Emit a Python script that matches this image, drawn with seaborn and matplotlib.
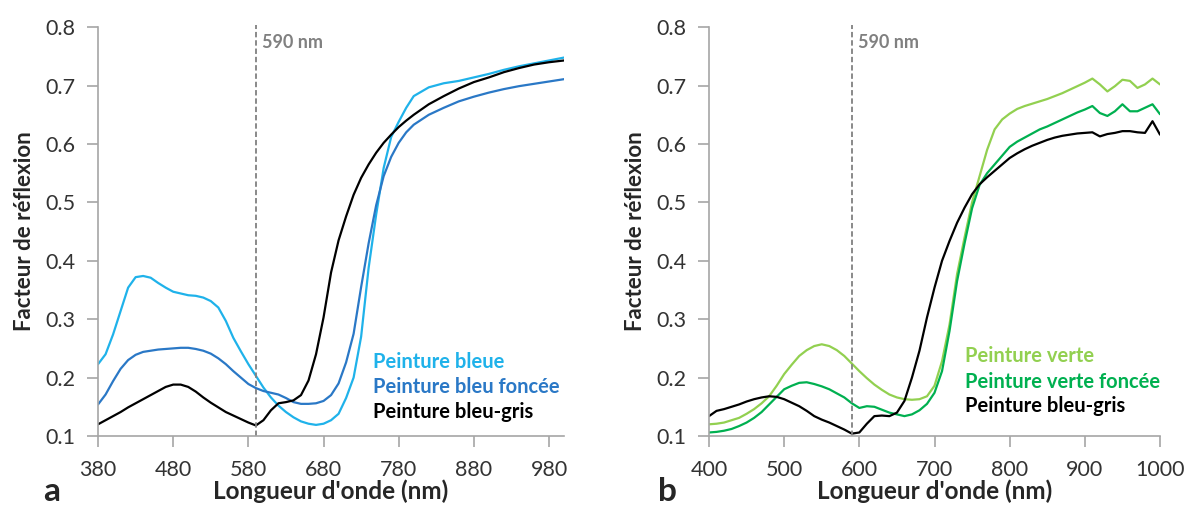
import numpy as np
import pandas as pd
import matplotlib
matplotlib.use("Agg")
import matplotlib.pyplot as plt
import seaborn as sns

# --- data ---
wl_a = [380, 390, 400, 410, 420, 430, 440, 450, 460, 470, 480, 490, 500, 510, 520, 530, 540,
        550, 560, 570, 580, 590, 600, 610, 620, 630, 640, 650, 660, 670, 680, 690, 700, 710,
        720, 730, 740, 750, 760, 770, 780, 790, 800, 820, 840, 860, 880, 900, 920, 940, 960,
        980, 1000]
bleue = [.223, .24, .274, .314, .354, .372, .374, .371, .362, .354, .347, .344, .341, .340,
         .337, .331, .32, .297, .268, .245, .223, .203, .183, .166, .152, .141, .132, .125,
         .121, .119, .121, .127, .138, .165, .2, .27, .388, .479, .559, .612, .638, .662,
         .682, .697, .704, .708, .714, .72, .727, .733, .738, .743, .748]
bleu_foncee = [.154, .171, .194, .215, .23, .239, .244, .246, .248, .249, .25, .251, .251,
               .249, .246, .241, .233, .223, .211, .2, .189, .182, .177, .174, .171, .165,
               .158, .155, .155, .156, .16, .17, .19, .226, .275, .355, .43, .495, .545,
               .578, .602, .62, .633, .65, .662, .673, .681, .688, .694, .699, .703, .707, .711]
bleu_gris_a = [.12, .127, .134, .141, .149, .156, .163, .17, .177, .184, .188, .188, .184,
               .176, .166, .157, .149, .141, .135, .129, .123, .118, .127, .144, .156, .158,
               .161, .17, .195, .24, .303, .38, .435, .476, .513, .542, .565, .585, .602,
               .616, .629, .64, .65, .668, .682, .695, .706, .714, .723, .73, .736, .74, .743]

wl_b = list(range(400, 1001, 10))
verte = [.12, .121, .123, .127, .131, .138, .146, .156, .168, .186, .206, .222, .237, .247,
         .254, .257, .254, .247, .237, .224, .211, .199, .188, .179, .171, .166, .163, .162,
         .163, .168, .186, .228, .291, .377, .44, .5, .545, .59, .625, .642, .652, .66,
         .665, .669, .673, .677, .682, .687, .693, .699, .705, .712, .702, .69, .699, .71,
         .708, .696, .702, .712, .702]
verte_foncee = [.106, .107, .109, .112, .117, .123, .131, .141, .154, .167, .18, .186, .191,
                .192, .189, .185, .18, .173, .166, .156, .148, .151, .15, .145, .14, .137,
                .134, .137, .144, .155, .174, .211, .28, .365, .43, .49, .53, .55, .565, .58,
                .595, .604, .611, .618, .625, .63, .636, .642, .648, .654, .659, .665, .653,
                .648, .656, .668, .656, .656, .662, .668, .651]
bleu_gris_b = [.134, .143, .146, .15, .154, .159, .163, .166, .168, .167, .163, .157, .151,
               .143, .134, .128, .123, .117, .111, .104, .106, .121, .134, .135, .134, .14,
               .16, .2, .246, .303, .354, .4, .434, .465, .491, .514, .531, .543, .554, .565,
               .576, .584, .591, .597, .602, .607, .611, .614, .616, .618, .619, .62, .613,
               .617, .619, .622, .622, .62, .619, .639, .616]

labels_a = ["Peinture bleue", "Peinture bleu foncée", "Peinture bleu-gris"]
labels_b = ["Peinture verte", "Peinture verte foncée", "Peinture bleu-gris"]
colors_a = ["#1fb2ea", "#2a78c6", "#000000"]
colors_b = ["#92d050", "#00b050", "#000000"]

sns.set_style("ticks")
plt.rcParams['font.family'] = ['Lato', 'DejaVu Sans']

fig = plt.figure(figsize=(11.9, 5.11), dpi=100)
ax1 = fig.add_axes([0.0824, 0.1468, 0.3916, 0.800])
ax2 = fig.add_axes([0.5958, 0.1468, 0.379, 0.800])

grey = "#a6a6a6"
panels = [
    (ax1, wl_a, [bleue, bleu_foncee, bleu_gris_a], labels_a, colors_a,
     (380, 1000), range(380, 1001, 100), 0.59, [0.181, 0.12, 0.059]),
    (ax2, wl_b, [verte, verte_foncee, bleu_gris_b], labels_b, colors_b,
     (400, 1000), range(400, 1001, 100), 0.568, [0.196, 0.132, 0.073]),
]

for ax, wl, series, labels, colors, xlim, xticks, legx, legy in panels:
    for ys, c in zip(series, colors):
        sns.lineplot(x=wl, y=ys, color=c, linewidth=1.6, ax=ax)
    ax.axvline(590, ymax=1.005, color="#808080", linestyle=(0, (3, 1.6)), linewidth=1.3,
               clip_on=False)
    ax.text(598, 0.774, "590 nm", color="#808080", fontsize=13, fontweight="bold",
            va="center", ha="left")
    ax.set_xlim(*xlim)
    ax.set_ylim(0.1, 0.8)
    ax.set_xticks(list(xticks))
    yt = np.arange(0.1, 0.81, 0.1)
    ax.set_yticks(yt)
    ax.set_yticklabels([f"{v:.1f}" for v in yt])
    ax.tick_params(axis="both", labelsize=15.5, colors=grey, labelcolor="#333333",
                   length=8, width=1.2)
    ax.tick_params(axis="x", pad=9)
    ax.tick_params(axis="y", pad=8)
    sns.despine(ax=ax)
    for s in ["left", "bottom"]:
        ax.spines[s].set_color(grey)
        ax.spines[s].set_linewidth(1.2)
    ax.set_xlabel("Longueur d'onde (nm)", fontsize=17.5, fontweight="bold", labelpad=0)
    ax.set_ylabel("Facteur de réflexion", fontsize=16, fontweight="bold", labelpad=8)
    for lab, c, yy in zip(labels, colors, legy):
        ax.text(legx, yy, lab, color=c, fontsize=14.5, fontweight="bold",
                transform=ax.transAxes, ha="left", va="center")

fig.text(0.036, 0.02, "a", fontsize=24, fontweight="bold")
fig.text(0.553, 0.02, "b", fontsize=24, fontweight="bold")

fig.savefig("out.png", dpi=100)
